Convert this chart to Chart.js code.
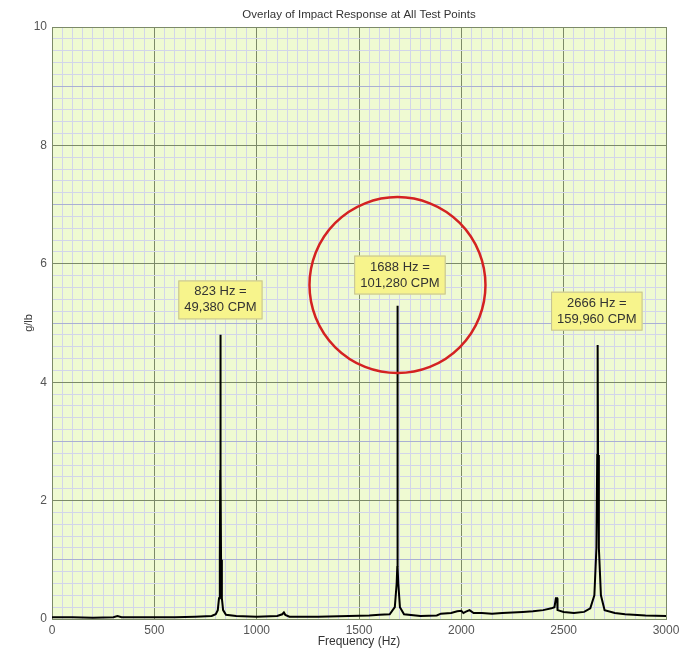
<!DOCTYPE html>
<html>
<head>
<meta charset="utf-8">
<script src="https://cdn.jsdelivr.net/npm/chart.js@4.4.1/dist/chart.umd.min.js"></script>
<style>
  html, body { margin: 0; padding: 0; background: #ffffff; }
  #wrap { width: 679px; height: 651px; }
</style>
</head>
<body>
<div id="wrap"><canvas id="myChart1" width="679" height="651"></canvas></div>
<script>
// spectrum (Hz, g/lb)
var freqHz = [0, 100, 200, 300, 320, 340, 450, 600, 700, 780, 800, 810, 816, 820, 822, 823, 824, 826, 830, 836, 850,
    900, 1000, 1100, 1125, 1133, 1140, 1160, 1300, 1450, 1550, 1600, 1650, 1675, 1684, 1687, 1688, 1689, 1692, 1700, 1720,
    1800, 1880, 1900, 1950, 1980, 2000, 2010, 2020, 2040, 2060, 2100, 2150, 2200, 2250, 2300, 2350, 2400, 2440, 2455, 2462,
    2468, 2470, 2500, 2550, 2600, 2630, 2650, 2660, 2664, 2666, 2668, 2672, 2682, 2700, 2750, 2800, 2900, 3000];
var response = [0.03, 0.03, 0.02, 0.03, 0.05, 0.03, 0.03, 0.03, 0.04, 0.05, 0.08, 0.15, 0.35, 1.0, 2.5, 4.8, 2.5, 1.0, 0.35, 0.15, 0.07,
    0.05, 0.04, 0.05, 0.08, 0.11, 0.07, 0.04, 0.04, 0.05, 0.06, 0.07, 0.08, 0.2, 0.6, 0.88, 5.29, 0.88, 0.6, 0.2, 0.08,
    0.05, 0.06, 0.09, 0.1, 0.13, 0.14, 0.1, 0.12, 0.15, 0.1, 0.1, 0.09, 0.1, 0.11, 0.12, 0.13, 0.15, 0.18, 0.2, 0.35,
    0.35, 0.15, 0.12, 0.1, 0.12, 0.18, 0.4, 1.2, 2.77, 4.63, 2.77, 1.2, 0.4, 0.15, 0.1, 0.08, 0.06, 0.05];

// peak callouts
var peakLabels = [["823 Hz =", "49,380 CPM"], ["1688 Hz =", "101,280 CPM"], ["2666 Hz =", "159,960 CPM"]];
var labelHz = [823, 1700, 2662];
var labelY = [5.39, 5.81, 5.2];

var xTicks = [0, 500, 1000, 1500, 2000, 2500, 3000];
var yTicks = [0, 2, 4, 6, 8, 10];

var points = [];
for (var i = 0; i < freqHz.length; i++) {
    points.push({x: freqHz[i], y: response[i]});
}

function near(v, list) {
    for (var k = 0; k < list.length; k++) {
        if (Math.abs(v - list[k]) < 1e-6) return true;
    }
    return false;
}

var olive = "#7c8a68";
var minor = "#d2d5ea";
var font = "'Liberation Sans', Arial, sans-serif";

var overlay = {
    id: "overlay",
    beforeDraw: function (chart) {
        var a = chart.chartArea, c = chart.ctx;
        c.save();
        c.fillStyle = "#effad2";
        c.fillRect(a.left, a.top, a.right - a.left, a.bottom - a.top);
        c.restore();
    },
    afterDraw: function (chart) {
        var c = chart.ctx, xs = chart.scales.x, ys = chart.scales.y;
        c.save();
        c.fillStyle = "#333333";
        c.font = "11.5px " + font;
        c.textAlign = "center";
        c.textBaseline = "middle";
        c.fillText("Overlay of Impact Response at All Test Points", 359, 15);
        c.font = "12px " + font;
        c.fillText("Frequency (Hz)", 359, 642);
        c.save();
        c.translate(29, 323);
        c.rotate(-Math.PI / 2);
        c.font = "11px " + font;
        c.fillText("g/lb", 0, 0);
        c.restore();

        // callout boxes
        c.font = "13px " + font;
        for (var i = 0; i < peakLabels.length; i++) {
            var cx = xs.getPixelForValue(labelHz[i]);
            var cy = ys.getPixelForValue(labelY[i]);
            var w = Math.max(c.measureText(peakLabels[i][0]).width, c.measureText(peakLabels[i][1]).width) + 12;
            var h = 39;
            c.fillStyle = "#f7f48c";
            c.strokeStyle = "#c2c096";
            c.lineWidth = 1;
            c.fillRect(cx - w / 2, cy - h / 2, w, h);
            c.strokeRect(cx - w / 2 + 0.5, cy - h / 2 + 0.5, w - 1, h - 1);
            c.fillStyle = "#333333";
            c.fillText(peakLabels[i][0], cx, cy - 8);
            c.fillText(peakLabels[i][1], cx, cy + 8);
        }

        // red circle round the middle peak
        c.strokeStyle = "#d42222";
        c.lineWidth = 2.5;
        c.beginPath();
        c.arc(xs.getPixelForValue(1688), ys.getPixelForValue(5.64), 88, 0, Math.PI * 2);
        c.stroke();
        c.restore();
    }
};

window.onload = function () {
    var ctx = document.getElementById("myChart1").getContext("2d");
    var chartLine = new Chart(ctx, {
        type: "line",
        data: {
            datasets: [{
                label: "All test points",
                data: points,
                borderColor: "#000000",
                borderWidth: 2,
                pointRadius: 0,
                tension: 0,
                fill: false
            }]
        },
        options: {
            responsive: false,
            animation: false,
            layout: {padding: {top: 27, right: 13, left: 0, bottom: 0}},
            plugins: {legend: {display: false}, tooltip: {enabled: false}, title: {display: false}},
            scales: {
                x: {
                    type: "linear",
                    min: 0, max: 3000,
                    afterFit: function (s) { s.height = 32; s.paddingRight = 0; s.paddingLeft = 0; },
                    afterBuildTicks: function (s) {
                        var t = [];
                        for (var v = 0; v <= 3000; v += 50) t.push({value: v});
                        s.ticks = t;
                    },
                    ticks: {
                        autoSkip: false, maxRotation: 0, padding: 4,
                        color: "#555555",
                        font: {family: font, size: 12},
                        callback: function (v) { return near(v, xTicks) ? String(v) : ""; }
                    },
                    grid: {
                        drawTicks: false,
                        color: function (c) { return near(c.tick.value, xTicks) ? olive : minor; },
                        lineWidth: 1
                    },
                    border: {color: olive, width: 1}
                },
                y: {
                    type: "linear",
                    min: 0, max: 10,
                    afterFit: function (s) { s.width = 52; s.paddingTop = 0; s.paddingBottom = 0; },
                    afterBuildTicks: function (s) {
                        var t = [];
                        for (var k = 0; k <= 50; k++) t.push({value: Math.round(k * 2) / 10});
                        s.ticks = t;
                    },
                    ticks: {
                        autoSkip: false, padding: 5,
                        color: "#555555",
                        font: {family: font, size: 12},
                        callback: function (v) { return near(v, yTicks) ? String(v) : ""; }
                    },
                    grid: {
                        drawTicks: false,
                        color: function (c) {
                            var v = c.tick.value;
                            if (near(v, yTicks)) return olive;
                            if (Math.abs(v - Math.round(v)) < 1e-6) return "#a9b0d4";
                            return minor;
                        },
                        lineWidth: 1
                    },
                    border: {color: olive, width: 1}
                }
            }
        },
        plugins: [overlay]
    });
};
</script>
</body>
</html>
